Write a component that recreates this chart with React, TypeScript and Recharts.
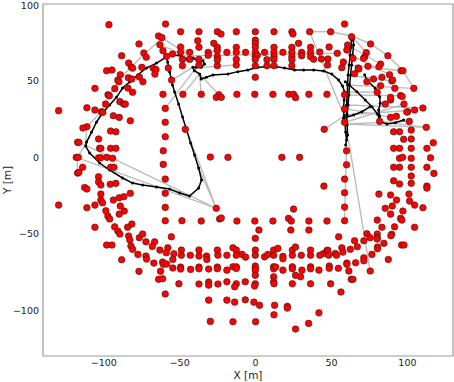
import React from 'react';
import { ScatterChart, Scatter, XAxis, YAxis } from 'recharts';

type Pair = [number, number];
type Seg = [number, number, number, number];

const xTicks = [-100, -50, 0, 50, 100];
const yTicks = [-100, -50, 0, 50, 100];

// Red landmarks, top band
const landmarksTop: Pair[] = [
  [-49.4, 81.9], [-37.3, 81.9], [-25.2, 81.9], [-22.8, 80.4], [-12.7, 81.9], [-0.2, 81.9], [12.1, 81.9], [23.9, 81.9], [24.6, 80.4], [35.6, 81.9], [49.4, 81.9],
  [-96.6, 86.5], [-59.3, 86.9], [58.6, 86.9], [-63.9, 79.1], [-61.7, 78], [63.2, 78.6],
  [-38.1, 76], [-27.5, 74.3], [-0.2, 76.4], [-0.2, 74.3], [28.3, 74.3],
  [-49.4, 71.9], [-37.3, 71.7], [-25.2, 71.7], [-12.7, 71.7], [-0.2, 71.7], [12.1, 71.7], [23.9, 71.7], [36.2, 71.7], [48.4, 71.9],
  [-49.4, 68.4], [-43.4, 68.4], [-31.2, 68.4], [-25.2, 69.5], [-18.9, 68.4], [-12.7, 68.4], [-6.6, 68.4], [-0.2, 68.4], [5.9, 68.4], [12.1, 68.4], [18, 68.4], [23.9, 68.4], [30.3, 68.4], [36.2, 68.4], [42.3, 68.6], [53.8, 67.8],
  [-31.2, 66.5], [-25.2, 65.6], [-0.2, 65.6], [1.1, 66.5], [12.1, 65.6], [23.9, 65.6], [30.3, 66.2], [36.2, 65.6],
  [-48.2, 63.8], [-43.4, 63.8], [-37.3, 63.8], [-25.2, 63.4], [-12.7, 63.8], [-0.2, 63.8], [7.5, 63.6], [12.1, 63.8], [23.9, 63.6], [38.2, 63.9], [43.3, 64.1], [47.6, 64.1],
  [-48.2, 59.7], [-37.3, 60.1], [-25.2, 59.7], [-12.7, 60.1], [-0.2, 59.7], [7.5, 59.7], [12.1, 59.7], [23.9, 59.7], [47.4, 60.1],
  [-0.2, 52.1],
  [-61, 41], [-47.9, 41], [-35.8, 41], [-24.2, 40.7], [-25.9, 39], [-22.6, 39], [-12.3, 41], [-0.5, 41], [11.4, 41], [21.9, 41], [25, 41], [26.3, 38.8], [35.1, 41], [47, 41], [58.6, 40.7],
];

// Red landmarks, left arc
const landmarksLeft: Pair[] = [
  [-76.8, 73.9], [-63, 73.4], [-61, 69.5], [-73.6, 68], [-72, 65.2], [-88.2, 66.2], [-58.6, 65.8], [-54.7, 67.3], [-83.6, 61.4], [-81.9, 58.8], [-81, 58.1], [-74.9, 58.6], [-67.4, 58], [-65.6, 57.2], [-57.5, 58.2],
  [-98.1, 56.4], [-94.6, 56.9], [-66.3, 54.2], [-89.1, 53.8], [-83.8, 51.8], [-81.5, 51], [-76.6, 52.3], [-74.2, 49.2], [-55.3, 50.3], [-90.7, 50.3], [-90, 49.2],
  [-105.8, 44.9], [-84.1, 45.1], [-81, 42.3], [-92.7, 44.7], [-97.2, 40.7], [-96.3, 40], [-98.8, 34.6], [-89.4, 36.2], [-86.9, 34.6], [-85.8, 34.6], [-59.5, 31.8],
  [-129.7, 30.3], [-111.1, 32.2], [-105.8, 30.7], [-101.6, 29.6], [-100.6, 29.2], [-93.7, 27], [-89.8, 25.9], [-82.5, 23.7], [-59.5, 22.7],
  [-111.1, 19.8], [-113.7, 19], [-95.5, 17], [-92, 16.5], [-103.4, 11.8], [-59.5, 13.3], [-117.2, 9.6], [-116.4, 9.6], [-102.7, 5.7], [-101.9, 5.7], [-95.5, 5.7], [-92, 5.7], [-60.8, 4.1],
  [-118.1, -0.2], [-116.8, -0.2], [-113.9, -6.7], [-103.4, -0.5], [-102, -0.5], [-97.9, -0.2], [-94.2, -0.8], [-95.5, -6.7], [-93.3, -6.7], [-60.8, -4.8],
  [-117.2, -10.5], [-116.4, -10], [-103.4, -12.9], [-103.4, -16.3], [-101.9, -18.3], [-95.7, -17.8], [-92, -17.2], [-59.5, -14.4], [-112.6, -19.9], [-111.1, -20.9],
  [-101.9, -24.2], [-93.7, -28.1], [-89.8, -26.6], [-86.7, -25.9], [-82.5, -23.7], [-59.5, -23.7], [-101.9, -28.1], [-100.8, -29.9], [-129.7, -31.4], [-111.1, -33.1], [-105.8, -31.4],
  [-89.1, -32], [-98.6, -35.1], [-86.5, -35.3], [-89.8, -37.3], [-97.3, -38.6], [-96.1, -40.5], [-81.5, -43.8], [-92.8, -45.6], [-105.8, -45.9], [-84.3, -45.9], [-90.7, -48.4], [-89.4, -50.3],
  [-83.6, -51.6], [-76.6, -52.7], [-74.4, -50.3], [-72.2, -55.4], [-66.5, -55.4], [-55.5, -52.1], [-59.5, -32.9], [-59.5, -41.6], [-48.5, -41.6],
];

// Red landmarks, centre
const landmarksCenter: Pair[] = [
  [-46.3, 18.1], [-29.8, 0], [-18.2, -0.2], [17.3, -0.2], [29, -0.2], [45.2, 18.1], [45, -19],
  [-35.8, -41.8], [-25.9, -33.5], [-23.7, -40.5], [-22.6, -39.8], [-12.3, -41.8], [-0.5, -41.8], [11.4, -41.8], [21.7, -40.1], [23.5, -41.8], [25, -34],
  [23.2, -47.7], [2.2, -47.7], [35.1, -41.8], [35.1, -47.7], [47, -41.8], [-0.2, -53.1],
];

// Red landmarks, bottom band
const landmarksBottom: Pair[] = [
  [-98.1, -57.5], [-94.6, -57.5], [-88.2, -67.1], [-82.8, -54.2], [-82.1, -58.2], [-81, -60.3], [-68, -58.4], [-77.5, -63.6], [-72.2, -64.7], [-71.8, -66.7],
  [-63, -60.8], [-57.8, -59.3], [-58.8, -62.5], [-53.8, -63.2], [-48.9, -60.8], [-48.9, -64.2], [-67, -69.3], [-61.2, -68.6], [-60.8, -70.1], [-58.6, -69.9],
  [-54.5, -66.9], [-54.5, -72.5], [-49.4, -71.9], [-49.4, -73.2], [-76.8, -74.7], [-62.6, -74.7], [-63.9, -79.9], [-61.2, -79.5], [-50.5, -82.8], [-59.5, -89.5],
  [-42.8, -73.4], [-37.3, -60.8], [-37.3, -64.7], [-43, -64.2], [-32.3, -64.7], [-32.1, -66.9], [-25.2, -60.8], [-24.8, -64.1], [-30.9, -73.2], [-37.3, -71.9], [-37.3, -73],
  [-25.2, -71.9], [-25.2, -73], [-18.9, -64.2], [-18.9, -73.9], [-37.3, -83], [-30.9, -81.7], [-30.9, -83.7], [-24.8, -83], [-18.9, -81.5], [-30.9, -93.5], [-18.9, -93.5], [-29.8, -107.4],
  [-14.9, -59.3], [-12.7, -60.8], [-9, -63.6], [-6.6, -65.4], [-12.7, -64.2], [-0.2, -60.8], [-0.2, -64.2], [5.9, -65.2], [8.1, -63.6], [11.9, -60.8], [14.7, -59.7], [11.9, -64.2],
  [18, -64.9], [18, -66.5], [24.2, -60.8], [26.3, -58.8], [24.2, -64.2], [30.1, -64.2], [36.2, -60.8], [36.2, -64.2],
  [-14.9, -71.7], [-12.7, -71.7], [-12.7, -72.8], [-0.2, -71.2], [-0.2, -72.8], [-0.2, -74], [11.9, -71.7], [11.9, -73], [13.2, -71.9], [18, -73.9], [24.2, -71.7], [24.2, -73],
  [26.3, -77.3], [29.6, -78.2], [30.5, -73.9], [36.2, -71.7], [36.2, -73], [41.7, -73.9], [-0.2, -77.3], [11.9, -78.2],
  [-12.7, -82.8], [-13.8, -84.8], [-6.8, -81.5], [-0.2, -82.8], [-0.7, -84.3], [11.9, -81.5], [12.1, -82.8], [24.2, -82.8], [36.2, -82.8],
  [-13.8, -94.8], [-6.8, -93.3], [-1.1, -94.8], [2.6, -96.9], [12.5, -96.9], [12.1, -103.1], [20.9, -97.6], [20.9, -98.7], [41.7, -101.8],
  [-14.9, -107.6], [0, -107.6], [26.3, -112.4], [34.9, -108.7],
  [44.8, -63], [47.1, -61], [47.6, -61], [48.1, -64.1], [42.3, -64.2], [52.5, -63], [53.3, -64.2], [56.8, -59.3], [57.5, -62.1], [62.4, -60.3], [65.2, -54.7], [67, -58.6],
  [71.3, -54.7], [71.3, -65.8], [71.3, -67.8], [73.3, -50.1], [75.5, -52.7], [76.6, -63.6], [80.1, -41.2], [80.1, -50.3], [80.1, -52.7], [80.1, -53.6], [80.3, -58.8], [80.3, -59.9],
  [83.2, -45.9], [84.5, -56.4], [87.4, -66.9], [85.4, -33.5], [88.9, -37.3], [90, -32], [92.8, -28.1], [91.5, -45.6], [89.6, -50.5], [89.1, -51.4], [95.5, -40.1], [96.3, -41.2],
  [97, -35.3], [101.4, -28.8], [101, -24.2], [104.7, -31.4], [110.2, -33.1], [104.7, -45.9], [96.1, -57.5], [97.7, -57.5], [65.9, -69.1], [60.1, -69.3], [60.1, -70.1],
  [54.5, -72.7], [48.5, -71.2], [48.5, -72.7], [61.4, -74.5], [63, -79.9], [64.1, -79.9], [75.5, -74.5], [49.4, -82.8], [56.2, -88.2], [54.7, -52.1],
  [58.6, -23.3], [58.6, -32.7], [58.6, -41.6], [81.2, -24.2], [88.9, -24.8],
];

// Red landmarks, right arc
const landmarksRight: Pair[] = [
  [101.2, 23.3], [112.4, 19.4], [90.9, 16.5], [94.8, 16.5], [102.5, 17.6], [117, 9.3], [90.9, 5.7], [94.8, 5.7], [102.5, 11.8], [97.5, 11.6], [102.5, 5.7], [112.8, 5.7],
  [94.8, -0.8], [96.8, -0.2], [102.5, -0.8], [115.2, -0.5], [90.9, -6.7], [94.8, -6.7], [102.5, -6.7], [112.8, -6.7], [117.4, -10.7], [102.5, -12.4],
  [90.9, -15.5], [94.8, -17.6], [102.5, -17.2], [112.8, -19], [112.8, -20.3], [59.9, 4.1], [59.9, -5], [58.6, -14.4], [81.7, 23.3],
  [75.7, 73.9], [64.1, 64.5], [72.9, 68.2], [71.8, 65.4], [71.1, 64.5], [87.1, 66.2], [82.3, 60.8], [81.2, 59], [67.6, 58.2], [68, 57.5], [74, 59.3], [56.8, 58.4], [65.2, 54.4],
  [88.2, 53.8], [95.8, 56.4], [97, 56.4], [77.7, 51], [83.2, 52.1], [89.8, 49.7], [90.2, 50.3], [73.3, 49.2], [82.3, 46.6], [91.7, 44.9], [104.2, 44.9], [80.1, 42.3],
  [95.5, 40.1], [96.5, 39.6], [88.9, 37.3], [88.9, 39], [85.4, 34.6], [97.7, 34.6], [110.2, 32], [104.7, 30.7], [100.1, 29.6], [99.6, 29.4], [92.7, 26.6], [88.9, 25.9],
  [58.6, 31.4], [58.6, 22.7], [60.6, 73.2], [60.1, 69.9], [57.8, 62.1],
];

// Black estimated trajectory
const trajectoryMain: Pair[] = [
  [-58.6, 65.4], [-65.2, 61.4], [-71.8, 58.2], [-77.7, 53.6], [-83, 49], [-87.6, 45.1], [-91.5, 39.2], [-96.1, 34], [-100.8, 28.8], [-104.7, 22.9], [-108, 16.3], [-111.3, 9.8], [-111.9, 7.2],
  [-109.3, 2.6], [-102.7, -3.9], [-96.1, -8.5], [-87.6, -13.7], [-81, -17], [-74.4, -18.3], [-65.2, -19.6], [-56.6, -20.9], [-50, -23.5], [-43.5, -25.5], [-37.5, -20.3], [-35.6, -15],
  [-37.5, -7.2], [-40.2, 1.3], [-42.8, 9.2], [-45.4, 17.6], [-48.1, 26.1], [-50.7, 34.6], [-53.3, 42.5], [-54.7, 47.1], [-56.6, 55.6], [-57.9, 62.1], [-58.6, 65.4],
  [-54.4, 66.7], [-48.9, 66], [-45.6, 64.1], [-41.3, 64.7], [-38, 62.9], [-34.7, 62.9], [-33.6, 60.8], [-35.8, 58.6], [-39, 58.6], [-41.3, 58.6], [-40.2, 56.4], [-36.9, 54.2],
  [-35.8, 51], [-32.5, 52.1], [-28.1, 53.6], [-18.2, 54.2], [-11.7, 55.8], [-5.1, 56.9], [1.5, 58.6], [8.1, 59], [13.6, 59], [19.1, 58.2], [25.7, 56.9], [31.6, 56.9], [38.2, 56.9],
  [44.8, 56.2], [50.2, 54.2], [54.7, 50.3], [57.3, 46.4], [58.6, 42.5],
  [58.3, 37.3], [57.9, 32], [58.3, 26.8], [58.9, 21.6], [59.3, 16.3], [59.9, 11.1], [59.3, 7.8],
  [60.6, 14.4], [60.3, 20.9], [59.9, 27.5], [59.9, 34], [60.3, 40.5], [60.6, 47.1], [60.9, 53.6], [61.6, 60.1], [62.2, 66.7], [62.9, 71.9], [63.2, 76.5], [63.4, 79.1],
  [64.5, 77.8], [64.5, 73.2], [63.9, 66.7], [63.2, 60.1], [62.6, 53.6], [61.9, 47.1], [61.4, 40.5], [60.9, 34], [60.3, 27.5], [59.6, 22.9],
];
const trajectoryBranchA: Pair[] = [
  [59.1, 49.2], [66.7, 42.7], [72.2, 37.3], [76.6, 32.9], [80.3, 28.1], [82.1, 23.1], [86.5, 21.6], [92, 22.4], [97.5, 24.2],
];
const trajectoryBranchB: Pair[] = [
  [71.8, 53.8], [73.3, 50.3], [78.8, 44.9], [81.7, 39.4], [82.1, 35.1], [81, 30.7], [81.7, 26.8], [82.1, 23.1],
];
const trajectoryBranchC: Pair[] = [
  [57.9, 25.3], [64.5, 27.5], [70, 29.6], [75.5, 32.9],
];

// Grey observation links [x1, y1, x2, y2]
const observations: Seg[] = [
  [-112.1, 7.8, -25.9, -33.5], [-118.1, -0.2, -25.9, -33.5], [-45.4, 17.6, -25.9, -33.5], [-37.5, -7.2, -25.9, -33.5],
  [-111.1, 19.8, -112.1, 7.8], [-112.1, 7.8, -117.5, -0.2], [-117.5, -0.2, -117.2, -10.5], [-112.1, 7.8, -116.8, 9.6],
  [-111.1, 19.8, -101.6, 29.6], [-101.6, 29.6, -96.6, 40], [-96.6, 40, -90.4, 50], [-90.4, 50, -82, 58.8], [-82, 58.8, -74, 66.5], [-74, 66.5, -62, 77.5],
  [-41.3, 64.7, -61.7, 78], [-38, 62.9, -63, 73.4], [-36.9, 54.2, -47.9, 41], [-36.9, 54.2, -35.8, 41], [-36.9, 54.2, -24.2, 40.7],
  [-39, 58.6, -59.5, 31.8], [-41.3, 58.6, -55.3, 50.3], [-33.6, 60.8, -49.4, 71.9], [-34.7, 62.9, -25.2, 71.7], [-35.8, 58.6, -12.7, 60.1],
  [-50, 66, 53.8, 67.8],
  [35.6, 81.9, 49.4, 81.9], [49.4, 81.9, 63.4, 79.1], [63.4, 79.1, 75.7, 73.9], [75.7, 73.9, 87.1, 66.2], [87.1, 66.2, 97, 56.4], [97, 56.4, 104.2, 44.9],
  [63.4, 79.1, 72.9, 68.2], [62.9, 71.9, 82.3, 60.8], [62.2, 66.7, 88.2, 53.8], [61.6, 60.1, 95.8, 56.4], [60.9, 53.6, 89.8, 49.7], [60.6, 47.1, 104.2, 44.9],
  [60.3, 40.5, 95.5, 40.1], [59.9, 34, 110.2, 32], [59.9, 27.5, 104.7, 30.7], [59.3, 21.6, 112.4, 19.4], [58.9, 21.6, 101.2, 23.3], [59.6, 22.9, 97.7, 34.6],
  [58.6, 42.5, 80.1, 42.3], [57.9, 32, 88.9, 25.9], [35.6, 81.9, 58.3, 26.8], [45.2, 18.1, 58.3, 26.8], [82.1, 23.1, 112.4, 19.4],
  [61.2, 11.1, 75.5, -74.5], [59.9, 8, 58.6, -41.6],
];

const toPts = (a: Pair[]) => a.map(([x, y]) => ({ x, y }));
const fmt = (v: number) => (v < 0 ? `\u2212${Math.abs(v)}` : `${v}`);

const RedDot = (p: any) => (
  <circle cx={p.cx} cy={p.cy} r={3.3} fill="#ff0000" stroke="#3a1a1a" strokeWidth={0.6} />
);
const BlackDot = (p: any) => <circle cx={p.cx} cy={p.cy} r={1.5} fill="#000" />;
const NoDot = () => <g />;

const FONT = 'DejaVu Sans, sans-serif';
const FRAME = '#999';

const YTick = (p: any) => {
  const y = Math.max(p.y, 5.5);
  return (
    <text x={p.x} y={y} textAnchor="end" dominantBaseline="central" fontSize={9.5} fontFamily={FONT} fill="#222">
      {fmt(p.payload.value)}
    </text>
  );
};

const YLabel = (props: any) => {
  const vb = props.viewBox || { x: 0, y: 4, width: 43, height: 352 };
  const cx = vb.x + 7;
  const cy = vb.y + vb.height / 2;
  return (
    <text x={cx} y={cy} transform={`rotate(-90, ${cx}, ${cy})`} textAnchor="middle" dominantBaseline="central" fontSize={10.5} fontFamily={FONT} fill="#222">
      Y [m]
    </text>
  );
};

export default function App() {
  const allLandmarks = [
    ...toPts(landmarksTop),
    ...toPts(landmarksLeft),
    ...toPts(landmarksCenter),
    ...toPts(landmarksBottom),
    ...toPts(landmarksRight),
  ];
  const tickStyle = { fill: '#222', fontSize: 9.5, fontFamily: FONT };
  return (
    <div style={{ position: 'absolute', left: 0, top: 0, width: 454, height: 382, background: '#fff' }}>
      <ScatterChart width={454} height={382} margin={{ top: 4, right: 1, bottom: 0, left: 0 }}>
        <XAxis
          type="number"
          dataKey="x"
          domain={[-140, 130]}
          allowDataOverflow
          ticks={xTicks}
          interval={0}
          tickFormatter={fmt}
          height={26}
          tickSize={0}
          tickMargin={3}
          tickLine={false}
          axisLine={{ stroke: FRAME, strokeWidth: 1.2 }}
          tick={tickStyle}
          label={{ value: 'X [m]', position: 'insideBottom', offset: 3.5, fill: '#222', fontSize: 10.5, fontFamily: FONT }}
        />
        <XAxis xAxisId="xb" type="number" dataKey="x" domain={[-140, 130]} allowDataOverflow ticks={xTicks} interval={0} orientation="bottom" mirror tick={false} tickSize={5} axisLine={false} stroke={FRAME} />
        <XAxis xAxisId="xt" type="number" dataKey="x" domain={[-140, 130]} allowDataOverflow ticks={xTicks} interval={0} orientation="top" mirror tick={false} tickSize={5} axisLine={{ stroke: FRAME, strokeWidth: 1.2 }} stroke={FRAME} />
        <YAxis
          type="number"
          dataKey="y"
          domain={[-130, 100]}
          allowDataOverflow
          ticks={yTicks}
          interval={0}
          tickFormatter={fmt}
          width={43}
          tickSize={0}
          tickMargin={4}
          tickLine={false}
          axisLine={{ stroke: FRAME, strokeWidth: 1.2 }}
          tick={YTick}
          label={YLabel}
        />
        <YAxis yAxisId="yl" type="number" dataKey="y" domain={[-130, 100]} allowDataOverflow ticks={yTicks} interval={0} orientation="left" mirror tick={false} tickSize={5} axisLine={false} stroke={FRAME} />
        <YAxis yAxisId="yr" type="number" dataKey="y" domain={[-130, 100]} allowDataOverflow ticks={yTicks} interval={0} orientation="right" mirror tick={false} tickSize={5} axisLine={{ stroke: FRAME, strokeWidth: 1.2 }} stroke={FRAME} />

        {observations.map((s, i) => (
          <Scatter
            key={`obs-${i}`}
            data={[{ x: s[0], y: s[1] }, { x: s[2], y: s[3] }]}
            line={{ stroke: '#bdbdbd', strokeWidth: 1.4 }}
            lineType="joint"
            shape={NoDot}
            isAnimationActive={false}
          />
        ))}
        {[trajectoryMain, trajectoryBranchA, trajectoryBranchB, trajectoryBranchC].map((t, i) => (
          <Scatter
            key={`traj-${i}`}
            data={toPts(t)}
            line={{ stroke: '#000', strokeWidth: 1.5 }}
            lineType="joint"
            shape={BlackDot}
            isAnimationActive={false}
          />
        ))}
        <Scatter data={allLandmarks} shape={RedDot} isAnimationActive={false} />
      </ScatterChart>
    </div>
  );
}
